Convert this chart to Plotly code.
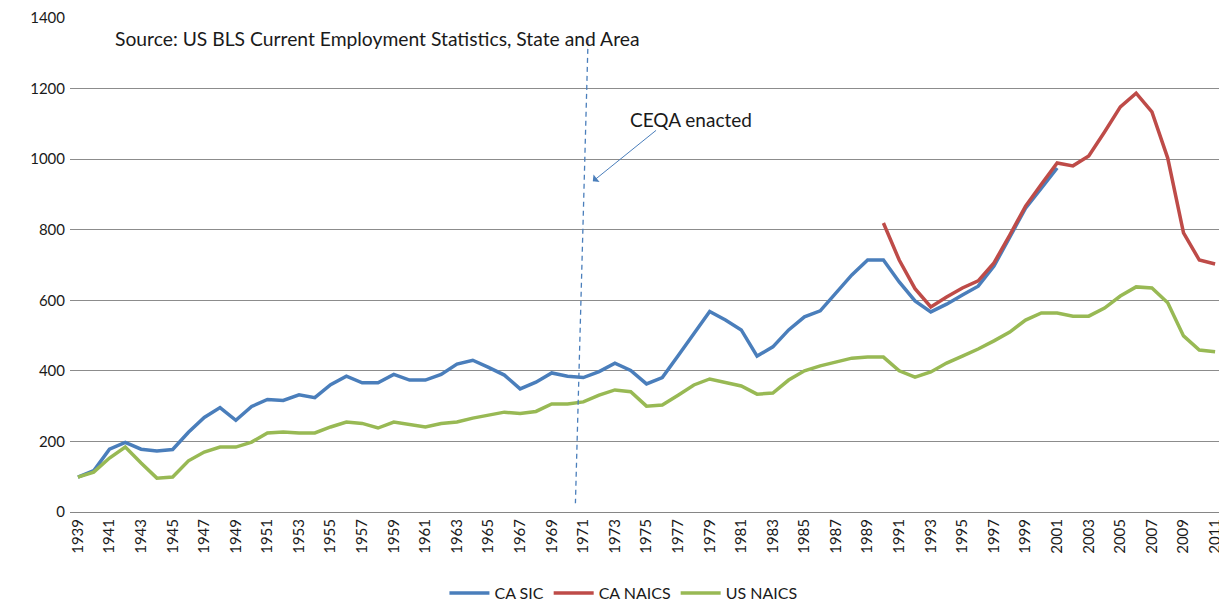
import plotly.graph_objects as go

# employment index data
years = list(range(1939, 2012))
ca_sic_years = list(range(1939, 2002))
ca_sic = [99, 117, 178, 197, 178, 173, 177, 226, 268, 296,
          260, 299, 319, 316, 332, 324, 361, 385, 366, 366,
          390, 374, 374, 390, 419, 430, 410, 388, 349, 368,
          394, 385, 381, 398, 422, 401, 363, 381, 443, 505,
          568, 544, 516, 442, 468, 516, 553, 570, 620, 672,
          714, 714, 652, 598, 567, 589, 615, 640, 697, 779,
          861, 918, 975]
ca_naics_years = list(range(1990, 2012))
ca_naics = [819, 714, 633, 581, 609, 635, 655, 706, 785, 867,
            929, 989, 981, 1009, 1077, 1148, 1187, 1134, 1003, 791,
            714, 703]
us_naics = [99, 113, 153, 184, 139, 96, 99, 145, 170, 184,
            184, 198, 224, 227, 224, 224, 241, 255, 251, 238,
            255, 247, 241, 251, 255, 266, 275, 283, 279, 285,
            306, 306, 312, 331, 346, 341, 300, 303, 331, 360,
            377, 368, 357, 334, 337, 374, 400, 414, 425, 436,
            439, 439, 400, 382, 397, 422, 442, 462, 485, 510,
            544, 564, 564, 555, 555, 578, 612, 638, 635, 593,
            499, 459, 454]
x_ticks = list(range(1939, 2012, 2))
y_ticks = list(range(0, 1401, 200))

FONT = "Lato"
TXT = "#1a1a1a"

fig = go.Figure()
fig.add_trace(go.Scatter(x=ca_sic_years, y=ca_sic, name="CA SIC", mode="lines",
                         line=dict(color="#4A7EBB", width=3.5)))
fig.add_trace(go.Scatter(x=ca_naics_years, y=ca_naics, name="CA NAICS", mode="lines",
                         line=dict(color="#BE4B48", width=3.5)))
fig.add_trace(go.Scatter(x=years, y=us_naics, name="US NAICS", mode="lines",
                         line=dict(color="#98B954", width=3.5)))

# CEQA marker line (slightly slanted, drawn by hand in the original)
fig.add_shape(type="line", xref="x", yref="y", x0=1971.3, y0=1338, x1=1970.5, y1=25,
              line=dict(color="#4A7EBB", width=1.3, dash="5px,4px"))

fig.add_annotation(x=1971.6, y=937, xref="x", yref="y", ax=1975.7, ay=1085,
                   axref="x", ayref="y", text="", showarrow=True,
                   arrowhead=1, arrowsize=1.6, arrowwidth=1, arrowcolor="#4A7EBB")
fig.add_annotation(x=1973.85, y=1113, xref="x", yref="y", text="CEQA enacted",
                   showarrow=False, xanchor="left", font=dict(size=19, color=TXT))
fig.add_annotation(x=1941.2, y=1343, xref="x", yref="y",
                   text="Source: US BLS Current Employment Statistics, State and Area",
                   showarrow=False, xanchor="left", font=dict(size=19.3, color=TXT))

fig.update_xaxes(range=[1938.5, 2011.5], tickvals=x_ticks, ticktext=[str(t) for t in x_ticks],
                 tickangle=-90, showgrid=False, zeroline=False, showline=True,
                 linecolor="#868686", linewidth=1, ticks="", automargin=False,
                 tickfont=dict(family=FONT, size=15, color=TXT))
fig.update_yaxes(range=[0, 1400], tickvals=y_ticks, showgrid=True, gridcolor="#8C8C8C",
                 gridwidth=1, zeroline=False, ticks="", automargin=False,
                 ticklabelstandoff=4,
                 tickfont=dict(family=FONT, size=15, color=TXT))

# page has an 8px body margin: figure starts at (8, 8); its lower edge runs past the
# window so the legend has room without shrinking the plot area
fig.update_layout(
    width=1219, height=620,
    margin=dict(l=62, r=4, t=10, b=116),
    plot_bgcolor="white", paper_bgcolor="white",
    font=dict(family=FONT, color=TXT),
    showlegend=True,
    legend=dict(orientation="h", x=0.48, xanchor="center", y=-0.164, yanchor="middle",
                font=dict(family=FONT, size=16, color=TXT), itemwidth=40,
                traceorder="normal"),
)

fig.write_html("out.html")
